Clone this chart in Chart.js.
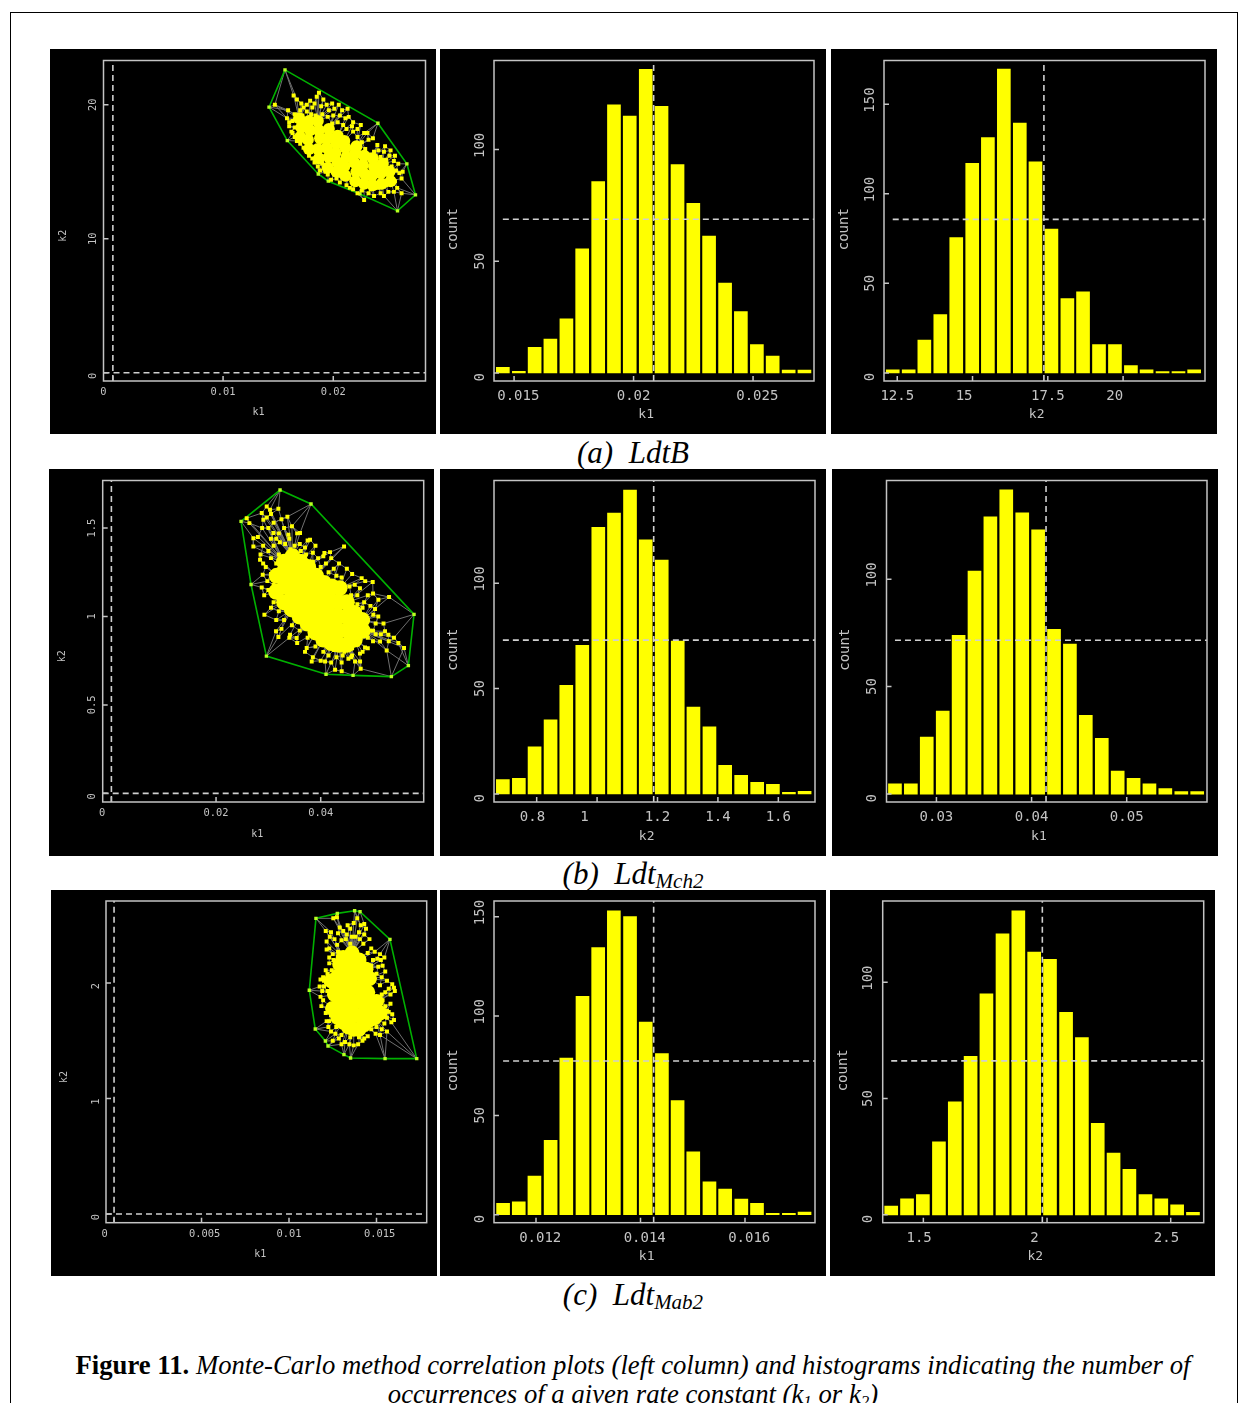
<!DOCTYPE html>
<html>
<head>
<meta charset="utf-8">
<title>Figure 11</title>
<script src="https://cdn.jsdelivr.net/npm/chart.js@4"></script>
<style>
    html, body { margin: 0; padding: 0; background: #fff; width: 1246px; height: 1403px; overflow: hidden; }
    #frame { position: absolute; left: 10px; top: 12px; width: 1226px; height: 1500px; border: 1.5px solid #000; }
    canvas { position: absolute; background: #000; filter: blur(0.5px); }
    .cap { position: absolute; left: 0; width: 1266px; text-align: center; color: #000; white-space: pre;
           font-family: "Liberation Serif", serif; }
    .sub { font-style: italic; font-size: 31px; line-height: 34px; }
    .sub span { font-size: 21px; vertical-align: -4px; line-height: 0; }
    .fig { font-size: 26.7px; line-height: 29px; font-style: italic; }
    .fig b { font-style: normal; }
    .fig span { font-size: 17px; vertical-align: -4px; line-height: 0; }
</style>
</head>
<body>
<div id="frame"></div>
<div class="cap sub" style="top:436px">(a)  LdtB</div>
<div class="cap sub" style="top:857px">(b)  Ldt<span>Mch2</span></div>
<div class="cap sub" style="top:1278px">(c)  Ldt<span>Mab2</span></div>
<div class="cap fig" style="top:1351px"><b>Figure 11.</b> Monte-Carlo method correlation plots (left column) and histograms indicating the number of</div>
<div class="cap fig" style="top:1380px">occurrences of a given rate constant (k<span>1</span> or k<span>2</span>)</div>

<script>
// --- histogram data (bin centre, count) ---
const binsA1 = [0.01453, 0.0152, 0.01586, 0.01652, 0.01719, 0.01785, 0.01852, 0.01918, 0.01984, 0.02051, 0.02117, 0.02184, 0.0225, 0.02316, 0.02383, 0.02449, 0.02516, 0.02582, 0.02649, 0.02715];
const countsA1 = [2.5, 0.7, 11.5, 15.2, 24.2, 55.6, 85.7, 120, 115, 136, 119.4, 93.3, 76, 61.3, 40.2, 27.5, 12.7, 7.6, 1.3, 1.3];
const binsA2 = [12.35, 12.88, 13.40, 13.93, 14.46, 14.99, 15.51, 16.04, 16.57, 17.09, 17.62, 18.15, 18.67, 19.20, 19.73, 20.26, 20.78, 21.31, 21.84, 22.36];
const countsA2 = [1.7, 1.7, 18.3, 32.6, 75.6, 117, 131.4, 169.6, 139.4, 117.8, 80.3, 41.5, 45.3, 15.8, 15.8, 4.1, 1.7, 0.8, 0.8, 1.7];
const binsB1 = [0.688, 0.741, 0.793, 0.846, 0.898, 0.951, 1.004, 1.056, 1.109, 1.161, 1.214, 1.267, 1.319, 1.372, 1.424, 1.477, 1.530, 1.582, 1.635, 1.687];
const countsB1 = [6.8, 7.4, 22.4, 35.2, 51.5, 70.5, 126.5, 133.3, 144.2, 120.5, 111, 72.5, 41.2, 31.8, 13.6, 8.8, 5.5, 4.6, 0.8, 1.3];
const binsB2 = [0.02564, 0.02731, 0.02898, 0.03066, 0.03233, 0.034, 0.03567, 0.03734, 0.03902, 0.04069, 0.04236, 0.04403, 0.0457, 0.04738, 0.04905, 0.05072, 0.05239, 0.05406, 0.05574, 0.05741];
const countsB2 = [4.7, 4.7, 26.5, 38.6, 73.8, 103.7, 129, 141.6, 130.9, 122.9, 76.6, 69.8, 36.6, 25.9, 10.7, 7.3, 4.7, 2.6, 1.2, 1.2];
const binsC1 = [0.01137, 0.01167, 0.01197, 0.01228, 0.01258, 0.01289, 0.01319, 0.01349, 0.0138, 0.0141, 0.01441, 0.01471, 0.01501, 0.01532, 0.01562, 0.01593, 0.01623, 0.01653, 0.01684, 0.01714];
const countsC1 = [5.7, 6.5, 19.4, 37.4, 78.9, 109.9, 134.4, 153, 150, 97, 81.1, 57.5, 31.7, 16.6, 12.9, 7.9, 5.7, 0.7, 0.7, 1.3];
const binsC2 = [1.370, 1.434, 1.498, 1.563, 1.627, 1.691, 1.755, 1.820, 1.884, 1.948, 2.012, 2.077, 2.141, 2.205, 2.269, 2.333, 2.398, 2.462, 2.526, 2.590];
const countsC2 = [3.7, 6.9, 8.7, 31.4, 48.6, 68.2, 95.1, 120.9, 130.8, 113, 109.9, 87.1, 76.2, 39.3, 26.5, 19.6, 8.7, 6.9, 4.3, 1.1];

// --- correlation plot data: hull vertices, dense core, scattered points ---
const hullA = [[0.01562, 22.61], [0.02405, 18.63], [0.02668, 15.59], [0.02746, 13.28], [0.02583, 12.08], [0.02242, 13.35], [0.01955, 14.30], [0.01864, 14.84], [0.01583, 17.33], [0.01417, 19.83]];
const coreA = [[0.017, 17.6], [0.0171, 18.3], [0.0169, 19.0], [0.0178, 16.7], [0.0177, 17.4], [0.0179, 18.1], [0.0178, 18.8], [0.0187, 16.0], [0.0186, 16.7], [0.0188, 17.5], [0.0187, 18.1], [0.0186, 18.8], [0.0195, 15.3], [0.0196, 16.1], [0.0194, 16.8], [0.0195, 17.5], [0.0196, 18.2], [0.0203, 15.0], [0.0204, 15.7], [0.0202, 16.4], [0.0203, 17.1], [0.0204, 17.7], [0.0211, 14.7], [0.021, 15.4], [0.0212, 16.1], [0.0211, 16.8], [0.021, 17.3], [0.022, 14.3], [0.0221, 15.0], [0.0219, 15.7], [0.022, 16.4], [0.0221, 16.9], [0.0228, 14.1], [0.0229, 14.8], [0.0227, 15.5], [0.0228, 16.2], [0.0236, 14.0], [0.0235, 14.7], [0.0237, 15.4], [0.0236, 16.0], [0.0244, 14.1], [0.0243, 14.9], [0.0245, 15.6], [0.0252, 14.3], [0.0251, 15.0]];
const pointsA = [[0.0147, 20.0], [0.0164, 20.7], [0.0167, 20.4], [0.0171, 20.1], [0.0187, 20.9], [0.0194, 20.0], [0.0185, 20.6], [0.0176, 20.0], [0.0181, 19.8], [0.0189, 19.9], [0.0196, 19.6], [0.0205, 20.0], [0.0208, 19.6], [0.0213, 19.7], [0.0214, 19.1], [0.0218, 18.7], [0.0225, 18.5], [0.0228, 17.9], [0.0232, 17.4], [0.024, 17.0], [0.0247, 16.9], [0.0252, 16.6], [0.0256, 16.2], [0.0259, 15.6], [0.0263, 15.0], [0.0262, 14.5], [0.0256, 14.3], [0.0258, 13.8], [0.0262, 13.4], [0.025, 13.5], [0.0246, 13.2], [0.0241, 13.8], [0.0237, 13.2], [0.0232, 13.4], [0.0228, 12.9], [0.0226, 13.6], [0.0218, 13.7], [0.0212, 14.0], [0.0206, 14.2], [0.0198, 14.4], [0.0193, 15.0], [0.0186, 15.4], [0.0181, 16.0], [0.0176, 16.5], [0.017, 17.1], [0.0165, 17.6], [0.0162, 18.0], [0.016, 18.4], [0.0163, 18.8], [0.0158, 19.0], [0.0168, 18.9], [0.0172, 19.2], [0.0176, 19.5], [0.018, 19.3], [0.0184, 19.2], [0.019, 19.3], [0.0195, 19.1], [0.02, 19.2], [0.0174, 18.7], [0.0199, 18.6], [0.0204, 18.7], [0.0209, 18.5], [0.0212, 18.2], [0.0218, 18.0], [0.0222, 17.6], [0.0226, 17.2], [0.0168, 17.6], [0.019, 15.6], [0.0196, 15.2], [0.0201, 14.8], [0.0207, 14.7], [0.0213, 14.5], [0.0219, 14.2], [0.0242, 14.3], [0.0248, 14.0], [0.0253, 14.6], [0.0249, 15.1], [0.0244, 15.6], [0.0233, 16.3], [0.0229, 16.7], [0.0237, 16.5], [0.0243, 16.1], [0.0248, 15.9], [0.0253, 15.4], [0.0223, 17.0]];
const extraA = [[0.0159, 19.6], [0.0165, 19.3], [0.017, 19.6], [0.0173, 19.8], [0.0179, 20.3], [0.0183, 20.1], [0.0191, 20.4], [0.0199, 20.1], [0.0201, 19.7], [0.0206, 19.2], [0.0211, 19.0], [0.0217, 18.4], [0.0222, 18.2], [0.0231, 17.9], [0.0236, 17.5], [0.0241, 16.6], [0.0246, 16.5], [0.0251, 16.2], [0.0255, 15.8], [0.0257, 15.1], [0.026, 14.9], [0.0255, 13.5], [0.0243, 13.4], [0.0234, 13.7], [0.0222, 13.4], [0.0215, 13.8], [0.0203, 14.5], [0.0195, 14.8], [0.0188, 15.1], [0.0183, 15.7], [0.0178, 16.2], [0.0173, 16.8], [0.0167, 17.3], [0.0163, 17.9], [0.0165, 18.3], [0.016, 18.7]];

const hullB = [[0.02478, 1.538], [0.03223, 1.715], [0.03815, 1.636], [0.05783, 1.012], [0.05675, 0.722], [0.0535, 0.660], [0.04618, 0.667], [0.04102, 0.673], [0.02962, 0.776], [0.02669, 1.181]];
const coreB = [[0.0315, 1.14], [0.0316, 1.23], [0.033, 1.08], [0.0331, 1.17], [0.0329, 1.25], [0.033, 1.31], [0.0345, 1.04], [0.0346, 1.12], [0.0344, 1.2], [0.0345, 1.28], [0.0346, 1.34], [0.036, 1.0], [0.0361, 1.08], [0.0359, 1.16], [0.036, 1.24], [0.0361, 1.31], [0.0375, 0.96], [0.0376, 1.04], [0.0374, 1.12], [0.0375, 1.2], [0.0376, 1.28], [0.039, 0.91], [0.0391, 0.99], [0.0389, 1.07], [0.039, 1.15], [0.0391, 1.23], [0.0405, 0.87], [0.0406, 0.95], [0.0404, 1.03], [0.0405, 1.11], [0.0406, 1.19], [0.042, 0.85], [0.0421, 0.93], [0.0419, 1.01], [0.042, 1.09], [0.0421, 1.17], [0.0435, 0.84], [0.0436, 0.92], [0.0434, 1.0], [0.0435, 1.08], [0.0436, 1.16], [0.045, 0.84], [0.0451, 0.92], [0.0449, 1.0], [0.045, 1.08], [0.0465, 0.87], [0.0466, 0.95], [0.0464, 1.02], [0.048, 0.92], [0.0479, 0.98]];
const pointsB = [[0.02586, 1.556], [0.02968, 1.622], [0.03032, 1.604], [0.03191, 1.609], [0.03363, 1.564], [0.02873, 1.585], [0.02904, 1.547], [0.02637, 1.528], [0.02713, 1.443], [0.02713, 1.396], [0.02841, 1.321], [0.02892, 1.236], [0.02873, 1.164], [0.02924, 1.01], [0.03146, 0.916], [0.03191, 0.884], [0.03414, 0.897], [0.03541, 0.878], [0.03732, 0.822], [0.03828, 0.746], [0.04083, 0.746], [0.04274, 0.699], [0.04401, 0.69], [0.04529, 0.761], [0.04656, 0.746], [0.04764, 0.705], [0.04752, 0.746], [0.04847, 0.825], [0.05134, 0.859], [0.05261, 0.808], [0.05484, 0.85], [0.05592, 0.822], [0.05293, 0.897], [0.05229, 0.916], [0.05006, 1.01], [0.05038, 1.042], [0.05306, 1.11], [0.05102, 1.095], [0.04994, 1.195], [0.04783, 1.217], [0.04446, 1.396], [0.04178, 1.364], [0.0407, 1.359], [0.03796, 1.434], [0.03605, 1.472], [0.03382, 1.462], [0.03096, 1.472], [0.03, 1.50], [0.031, 1.53], [0.032, 1.47], [0.033, 1.50], [0.034, 1.44], [0.035, 1.40], [0.036, 1.41], [0.037, 1.39], [0.0385, 1.36], [0.0395, 1.33], [0.029, 1.40], [0.03, 1.37], [0.031, 1.40], [0.032, 1.35], [0.0295, 1.28], [0.0305, 1.24], [0.03, 1.15], [0.031, 1.08], [0.032, 1.03], [0.033, 0.98], [0.0345, 0.95], [0.036, 0.92], [0.0375, 0.88], [0.039, 0.83], [0.0405, 0.80], [0.0415, 0.78], [0.043, 0.77], [0.0445, 0.80], [0.046, 0.82], [0.0475, 0.87], [0.049, 0.88], [0.05, 0.92], [0.049, 0.98], [0.048, 1.05], [0.047, 1.12], [0.0455, 1.17], [0.044, 1.22], [0.0425, 1.27], [0.041, 1.30], [0.05, 0.86], [0.0515, 0.90], [0.048, 0.80], [0.0465, 1.18], [0.049, 1.12], [0.0475, 1.16]];
const extraB = [[0.0288, 1.50], [0.0297, 1.56], [0.0305, 1.58], [0.0325, 1.55], [0.0345, 1.51], [0.0355, 1.47], [0.0375, 1.43], [0.039, 1.40], [0.0405, 1.34], [0.042, 1.33], [0.0435, 1.30], [0.045, 1.27], [0.046, 1.24], [0.028, 1.45], [0.0285, 1.35], [0.029, 1.30], [0.0298, 1.20], [0.0292, 1.12], [0.0305, 1.05], [0.0315, 0.98], [0.0325, 0.93], [0.034, 0.88], [0.0355, 0.85], [0.037, 0.80], [0.0385, 0.77], [0.04, 0.75], [0.042, 0.74], [0.044, 0.74], [0.046, 0.78], [0.047, 0.84], [0.0505, 0.96], [0.051, 1.0], [0.052, 0.96], [0.053, 0.86], [0.054, 0.88], [0.0495, 1.06], [0.05, 1.13], [0.0485, 1.2], [0.0322, 1.42], [0.0332, 1.41], [0.0342, 1.38], [0.0352, 1.36], [0.0362, 1.37], [0.0372, 1.35], [0.0305, 1.44], [0.0315, 1.44], [0.0305, 1.33], [0.0315, 1.30], [0.031, 1.18], [0.0322, 1.11], [0.0335, 1.03], [0.035, 0.99], [0.0365, 0.96], [0.038, 0.92], [0.0395, 0.87], [0.041, 0.84], [0.0425, 0.81], [0.0442, 0.78], [0.0458, 0.77], [0.0475, 0.79], [0.049, 0.82], [0.0483, 0.91], [0.0495, 0.92], [0.0505, 0.90], [0.0475, 1.02], [0.0483, 1.08], [0.047, 1.07], [0.0458, 1.12], [0.0445, 1.18], [0.043, 1.23], [0.0415, 1.25], [0.04, 1.28], [0.0385, 1.31], [0.037, 1.34]];

const hullC = [[0.01154, 2.56], [0.01276, 2.603], [0.01375, 2.626], [0.01406, 2.618], [0.01577, 2.378], [0.0173, 1.345], [0.01549, 1.345], [0.01352, 1.351], [0.01314, 1.38], [0.01223, 1.455], [0.01208, 1.498], [0.0115, 1.602], [0.01116, 1.937]];
const coreC = [[0.0125, 1.78], [0.0126, 1.9], [0.0124, 2.02], [0.0128, 1.7], [0.0129, 1.82], [0.0127, 1.94], [0.0128, 2.06], [0.0129, 2.16], [0.0131, 1.66], [0.0132, 1.78], [0.013, 1.9], [0.0131, 2.02], [0.0132, 2.14], [0.0131, 2.22], [0.0134, 1.62], [0.0135, 1.74], [0.0133, 1.86], [0.0134, 1.98], [0.0135, 2.10], [0.0134, 2.22], [0.0137, 1.6], [0.0138, 1.72], [0.0136, 1.84], [0.0137, 1.96], [0.0138, 2.08], [0.0137, 2.2], [0.0136, 2.26], [0.014, 1.6], [0.0141, 1.72], [0.0139, 1.84], [0.014, 1.96], [0.0141, 2.08], [0.014, 2.2], [0.0143, 1.64], [0.0144, 1.76], [0.0142, 1.88], [0.0143, 2.0], [0.0144, 2.12], [0.0146, 1.68], [0.0147, 1.8], [0.0145, 1.92], [0.0146, 2.04], [0.0149, 1.7], [0.015, 1.84], [0.0152, 1.74]];
const pointsC = [[0.01253, 2.56], [0.01274, 2.57], [0.01233, 2.40], [0.01215, 2.36], [0.0124, 2.44], [0.0129, 2.48], [0.0131, 2.45], [0.01335, 2.50], [0.0135, 2.47], [0.0137, 2.52], [0.0139, 2.56], [0.0141, 2.50], [0.0143, 2.51], [0.0144, 2.47], [0.0123, 2.30], [0.01215, 2.29], [0.0125, 2.25], [0.01275, 2.33], [0.013, 2.37], [0.01325, 2.38], [0.0135, 2.34], [0.0138, 2.40], [0.01405, 2.38], [0.01425, 2.34], [0.0145, 2.26], [0.0147, 2.30], [0.0149, 2.27], [0.01505, 2.21], [0.01525, 2.20], [0.01545, 2.22], [0.01535, 2.15], [0.0151, 2.14], [0.015, 2.08], [0.0153, 2.05], [0.0156, 2.02], [0.0159, 1.99], [0.016, 1.96], [0.01605, 1.93], [0.0158, 1.90], [0.0155, 1.92], [0.01535, 1.85], [0.0155, 1.80], [0.0157, 1.75], [0.0159, 1.73], [0.016, 1.68], [0.01585, 1.66], [0.0156, 1.70], [0.01545, 1.65], [0.0153, 1.60], [0.0156, 1.58], [0.0152, 1.55], [0.01495, 1.56], [0.0147, 1.60], [0.0145, 1.54], [0.0142, 1.50], [0.01395, 1.47], [0.0137, 1.46], [0.01345, 1.47], [0.0132, 1.49], [0.013, 1.47], [0.01285, 1.52], [0.01265, 1.56], [0.0125, 1.50], [0.0124, 1.58], [0.01225, 1.62], [0.01215, 1.67], [0.0124, 1.72], [0.0122, 1.78], [0.01195, 1.85], [0.01185, 1.80], [0.0119, 1.93], [0.01175, 1.97], [0.012, 2.02], [0.01195, 2.05], [0.0123, 2.03], [0.0121, 2.11], [0.0123, 2.17], [0.01245, 2.11], [0.01255, 2.20]];
const extraC = [[0.0121, 2.45], [0.0126, 2.38], [0.0128, 2.43], [0.0133, 2.42], [0.0136, 2.40], [0.014, 2.44], [0.0143, 2.42], [0.0146, 2.38], [0.0128, 2.27], [0.0123, 2.22], [0.0148, 2.20], [0.0152, 2.25], [0.0147, 2.15], [0.0155, 2.10], [0.0152, 1.98], [0.0157, 1.95], [0.0153, 1.90], [0.0158, 1.82], [0.0156, 1.76], [0.0154, 1.72], [0.015, 1.62], [0.0143, 1.52], [0.014, 1.53], [0.0135, 1.53], [0.013, 1.55], [0.0127, 1.62], [0.0123, 1.67], [0.0121, 1.74], [0.0118, 1.88], [0.0122, 1.93], [0.012, 1.97], [0.0122, 2.08], [0.0118, 2.03]];

// --- tick values and labels (spaces nudge a label off its tick, as in the original) ---
const ticksS_A_x = [0, 0.01, 0.02], labelsS_A_x = ['0   ', '0.01', '0.02'];
const ticksS_A_y = [0, 10, 20], labelsS_A_y = ['0 ', '10', '20'];
const ticksS_B_x = [0, 0.02, 0.04], labelsS_B_x = ['0   ', '0.02', '0.04'];
const ticksS_B_y = [0, 0.5, 1, 1.5], labelsS_B_y = ['0 ', '0.5', '1', '1.5'];
const ticksS_C_x = [0, 0.005, 0.01, 0.015], labelsS_C_x = ['0   ', ' 0.005', '0.01', ' 0.015'];
const ticksS_C_y = [0, 1, 2], labelsS_C_y = ['0 ', '1 ', '2 '];

const ticksA1_x = [0.015, 0.02, 0.025], labelsA1_x = [' 0.015', '0.02', ' 0.025'];
const ticksA2_x = [12.5, 15, 17.5, 20], labelsA2_x = ['12.5', '15  ', '17.5', '20  '];
const ticksB1_x = [0.8, 1, 1.2, 1.4, 1.6], labelsB1_x = ['0.8 ', '1   ', '1.2', '1.4', '1.6'];
const ticksB2_x = [0.03, 0.04, 0.05], labelsB2_x = ['0.03', '0.04', '0.05'];
const ticksC1_x = [0.012, 0.014, 0.016], labelsC1_x = [' 0.012', ' 0.014', ' 0.016'];
const ticksC2_x = [1.5, 2, 2.5], labelsC2_x = ['1.5 ', '2   ', '2.5 '];
const ticksCount100 = [0, 50, 100], labelsCount100 = ['0 ', '50', ' 100'];
const ticksCount150 = [0, 50, 100, 150], labelsCount150 = ['0 ', '50', ' 100', ' 150'];

const boxColor = '#c4c4c4';
const dashColor = '#d0d0d0';
const tickFont = 'DejaVu Sans Mono';

// box round the plot and inward tick marks
const plotBox = {
    id: 'plotBox',
    afterDatasetsDraw(chart) {
        const { ctx, chartArea: a, scales } = chart;
        ctx.save();
        ctx.strokeStyle = boxColor;
        ctx.lineWidth = 1.5;
        ctx.strokeRect(a.left, a.top, a.right - a.left, a.bottom - a.top);
        ctx.beginPath();
        scales.x.ticks.forEach(t => {
            const px = scales.x.getPixelForValue(t.value);
            ctx.moveTo(px, a.bottom);
            ctx.lineTo(px, a.bottom - 5);
        });
        scales.y.ticks.forEach(t => {
            const py = scales.y.getPixelForValue(t.value);
            ctx.moveTo(a.left, py);
            ctx.lineTo(a.left + 5, py);
        });
        ctx.stroke();
        ctx.restore();
    }
};

function makeCanvas(rect) {
    const c = document.createElement('canvas');
    c.width = rect.w;
    c.height = rect.h;
    c.style.left = rect.l + 'px';
    c.style.top = rect.t + 'px';
    c.style.width = rect.w + 'px';
    c.style.height = rect.h + 'px';
    document.body.appendChild(c);
    return c.getContext('2d');
}

function axisX(p, s) {
    return {
        type: 'linear', offset: false, min: p.xRange[0], max: p.xRange[1],
        grid: { display: false, drawTicks: false }, border: { display: false },
        afterBuildTicks: scale => { scale.ticks = p.xTicks.map(v => ({ value: v })); },
        afterFit: scale => { scale.height = p.rect.t + p.rect.h - p.box.y1; },
        ticks: {
            color: boxColor, autoSkip: false, maxRotation: 0, minRotation: 0, padding: s.xPad,
            font: { family: tickFont, size: s.tickSize },
            callback: (v, i) => p.xLabels[i]
        },
        title: { display: true, text: p.xTitle, color: boxColor, font: { family: tickFont, size: s.titleSize }, padding: { top: 0, bottom: s.xTitlePad } }
    };
}

function axisY(p, s) {
    const widest = Math.max(...p.yLabels.map(l => l.length)) * s.tickSize * 0.602;
    return {
        type: 'linear', min: p.yRange[0], max: p.yRange[1],
        grid: { display: false, drawTicks: false }, border: { display: false },
        afterBuildTicks: scale => { scale.ticks = p.yTicks.map(v => ({ value: v })); },
        afterFit: scale => { scale.width = p.box.x0 - p.rect.l; },
        ticks: {
            color: boxColor, autoSkip: false, minRotation: 90, maxRotation: 90, crossAlign: 'center',
            padding: s.yGap - widest / 2,
            font: { family: tickFont, size: s.tickSize },
            callback: (v, i) => p.yLabels[i]
        },
        title: { display: true, text: p.yTitle, color: boxColor, font: { family: tickFont, size: s.yTitleSize }, padding: { top: s.yTitlePad, bottom: 0 } }
    };
}

function chartOptions(p, s) {
    return {
        responsive: false,
        animation: false,
        events: [],
        layout: { padding: { top: p.box.y0 - p.rect.t, right: p.rect.l + p.rect.w - p.box.x1, left: 0, bottom: 0 } },
        plugins: { legend: { display: false }, tooltip: { enabled: false } },
        scales: { x: axisX(p, s), y: axisY(p, s) }
    };
}

function dashLine(pts) {
    return { type: 'line', data: pts, borderColor: dashColor, borderWidth: 1.6, borderDash: [6, 4], pointRadius: 0, fill: false, order: 0 };
}

const histStyle = { tickSize: 14, titleSize: 13, yTitleSize: 14, xPad: 7, xTitlePad: 11.5, yGap: 14, yTitlePad: 5.3 };
const scatStyle = { tickSize: 10.4, titleSize: 10, yTitleSize: 10, xPad: 5, xTitlePad: 16, yGap: 10, yTitlePad: 7.4 };

function drawHistogram(p) {
    const ctx = makeCanvas(p.rect);
    new Chart(ctx, {
        type: 'bar',
        data: {
            datasets: [
                dashLine([{ x: p.meanX, y: p.yRange[0] }, { x: p.meanX, y: p.yRange[1] }]),
                dashLine([{ x: p.bins[0], y: p.meanY }, { x: p.xRange[1], y: p.meanY }]),
                {
                    type: 'bar', data: p.bins.map((b, i) => ({ x: b, y: p.counts[i] })),
                    backgroundColor: '#ffff00', barThickness: 13, order: 1
                }
            ]
        },
        options: chartOptions(p, histStyle),
        plugins: [plotBox]
    });
}

// closest entries of a list, with distance measured in plot proportions
function nearest(pt, list, n, xSpan, ySpan) {
    return list.filter(q => q !== pt)
        .map(q => ({ q, d: ((q[0] - pt[0]) / xSpan) ** 2 + ((q[1] - pt[1]) / ySpan) ** 2 }))
        .sort((a, b) => a.d - b.d).slice(0, n).map(o => o.q);
}

function drawScatter(p) {
    const ctx = makeCanvas(p.rect);
    const xSpan = p.xRange[1] - p.xRange[0], ySpan = p.yRange[1] - p.yRange[0];
    const toXY = a => ({ x: a[0], y: a[1] });
    const gap = { x: NaN, y: NaN };
    const links = [];
    p.hull.forEach(v => nearest(v, p.points, 3, xSpan, ySpan).forEach(q => links.push(toXY(v), toXY(q), gap)));
    p.points.forEach(v => nearest(v, p.points, 2, xSpan, ySpan).forEach(q => links.push(toXY(v), toXY(q), gap)));
    p.points.forEach(v => nearest(v, p.core, 1, xSpan, ySpan).forEach(q => links.push(toXY(v), toXY(q), gap)));
    new Chart(ctx, {
        type: 'scatter',
        data: {
            datasets: [
                { data: p.core.map(toXY), backgroundColor: '#ffff00', borderWidth: 0, pointRadius: p.coreRadius, pointStyle: 'circle', order: 1 },
                { data: p.points.map(toXY), backgroundColor: '#ffff00', borderWidth: 0, pointRadius: 2.8, pointStyle: 'rect', order: 2 },
                { data: p.hull.map(toXY), backgroundColor: '#b8ff20', borderWidth: 0, pointRadius: 2.4, pointStyle: 'rect', order: 3 },
                { data: p.hull.concat([p.hull[0]]).map(toXY), showLine: true, borderColor: '#00b000', borderWidth: 1.6, pointRadius: 0, order: 4 },
                { data: links, showLine: true, borderColor: '#707070', borderWidth: 1, pointRadius: 0, spanGaps: false, order: 5 },
                Object.assign(dashLine([{ x: 0, y: p.yRange[0] }, { x: 0, y: p.yRange[1] }]), { order: 6 }),
                Object.assign(dashLine([{ x: p.xRange[0], y: 0 }, { x: p.xRange[1], y: 0 }]), { order: 6 })
            ]
        },
        options: chartOptions(p, scatStyle),
        plugins: [plotBox]
    });
}

drawScatter({
    rect: { l: 50, t: 49, w: 386, h: 385 }, box: { x0: 103.5, y0: 60.5, x1: 425.5, y1: 381 },
    xRange: [-0.00085, 0.02837], yRange: [-0.62, 23.31],
    xTicks: ticksS_A_x, xLabels: labelsS_A_x, yTicks: ticksS_A_y, yLabels: labelsS_A_y,
    xTitle: 'k1  ', yTitle: 'k2     ', hull: hullA, core: coreA, points: pointsA.concat(extraA), coreRadius: 6
});
drawHistogram({
    rect: { l: 440, t: 49, w: 386, h: 385 }, box: { x0: 494, y0: 60.5, x1: 814, y1: 381 },
    xRange: [0.01416, 0.02755], yRange: [-3.6, 139.9],
    xTicks: ticksA1_x, xLabels: labelsA1_x, yTicks: ticksCount100, yLabels: labelsCount100,
    xTitle: 'k1  ', yTitle: 'count  ', bins: binsA1, counts: countsA1, meanX: 0.02084, meanY: 68.8
});
drawHistogram({
    rect: { l: 831, t: 49, w: 386, h: 385 }, box: { x0: 884, y0: 60.5, x1: 1205, y1: 381 },
    xRange: [12.06, 22.72], yRange: [-4.5, 174.4],
    xTicks: ticksA2_x, xLabels: labelsA2_x, yTicks: ticksCount150, yLabels: labelsCount150,
    xTitle: 'k2  ', yTitle: 'count  ', bins: binsA2, counts: countsA2, meanX: 17.37, meanY: 85.7
});
drawScatter({
    rect: { l: 49, t: 469, w: 385, h: 387 }, box: { x0: 102.7, y0: 480.5, x1: 423.7, y1: 802 },
    xRange: [-0.00166, 0.05968], yRange: [-0.049, 1.769],
    xTicks: ticksS_B_x, xLabels: labelsS_B_x, yTicks: ticksS_B_y, yLabels: labelsS_B_y,
    xTitle: 'k1  ', yTitle: 'k2     ', hull: hullB, core: coreB, points: pointsB.concat(extraB), coreRadius: 8
});
drawHistogram({
    rect: { l: 440, t: 469, w: 386, h: 387 }, box: { x0: 494, y0: 480.5, x1: 815, y1: 802 },
    xRange: [0.6587, 1.7214], yRange: [-3.8, 148.7],
    xTicks: ticksB1_x, xLabels: labelsB1_x, yTicks: ticksCount100, yLabels: labelsCount100,
    xTitle: 'k2  ', yTitle: 'count  ', bins: binsB1, counts: countsB1, meanX: 1.1874, meanY: 73
});
drawHistogram({
    rect: { l: 832, t: 469, w: 386, h: 387 }, box: { x0: 886.5, y0: 480.5, x1: 1207, y1: 802 },
    xRange: [0.02475, 0.05844], yRange: [-3.7, 145.9],
    xTicks: ticksB2_x, xLabels: labelsB2_x, yTicks: ticksCount100, yLabels: labelsCount100,
    xTitle: 'k1  ', yTitle: 'count  ', bins: binsB2, counts: countsB2, meanX: 0.04152, meanY: 71.6
});
drawScatter({
    rect: { l: 51, t: 890, w: 386, h: 386 }, box: { x0: 106, y0: 901, x1: 426.7, y1: 1222.7 },
    xRange: [-0.00046, 0.01787], yRange: [-0.075, 2.71],
    xTicks: ticksS_C_x, xLabels: labelsS_C_x, yTicks: ticksS_C_y, yLabels: labelsS_C_y,
    xTitle: 'k1  ', yTitle: 'k2     ', hull: hullC, core: coreC, points: pointsC.concat(extraC), coreRadius: 7.5
});
drawHistogram({
    rect: { l: 440, t: 890, w: 386, h: 386 }, box: { x0: 494, y0: 901, x1: 815, y1: 1222.7 },
    xRange: [0.011196, 0.01734], yRange: [-4, 157.9],
    xTicks: ticksC1_x, xLabels: labelsC1_x, yTicks: ticksCount150, yLabels: labelsCount150,
    xTitle: 'k1  ', yTitle: 'count  ', bins: binsC1, counts: countsC1, meanX: 0.014252, meanY: 77.4
});
drawHistogram({
    rect: { l: 830, t: 890, w: 385, h: 386 }, box: { x0: 882.7, y0: 901, x1: 1203.7, y1: 1222.7 },
    xRange: [1.3356, 2.6334], yRange: [-3.4, 135],
    xTicks: ticksC2_x, xLabels: labelsC2_x, yTicks: ticksCount100, yLabels: labelsCount100,
    xTitle: 'k2  ', yTitle: 'count  ', bins: binsC2, counts: countsC2, meanX: 1.981, meanY: 66.2
});
</script>
</body>
</html>
